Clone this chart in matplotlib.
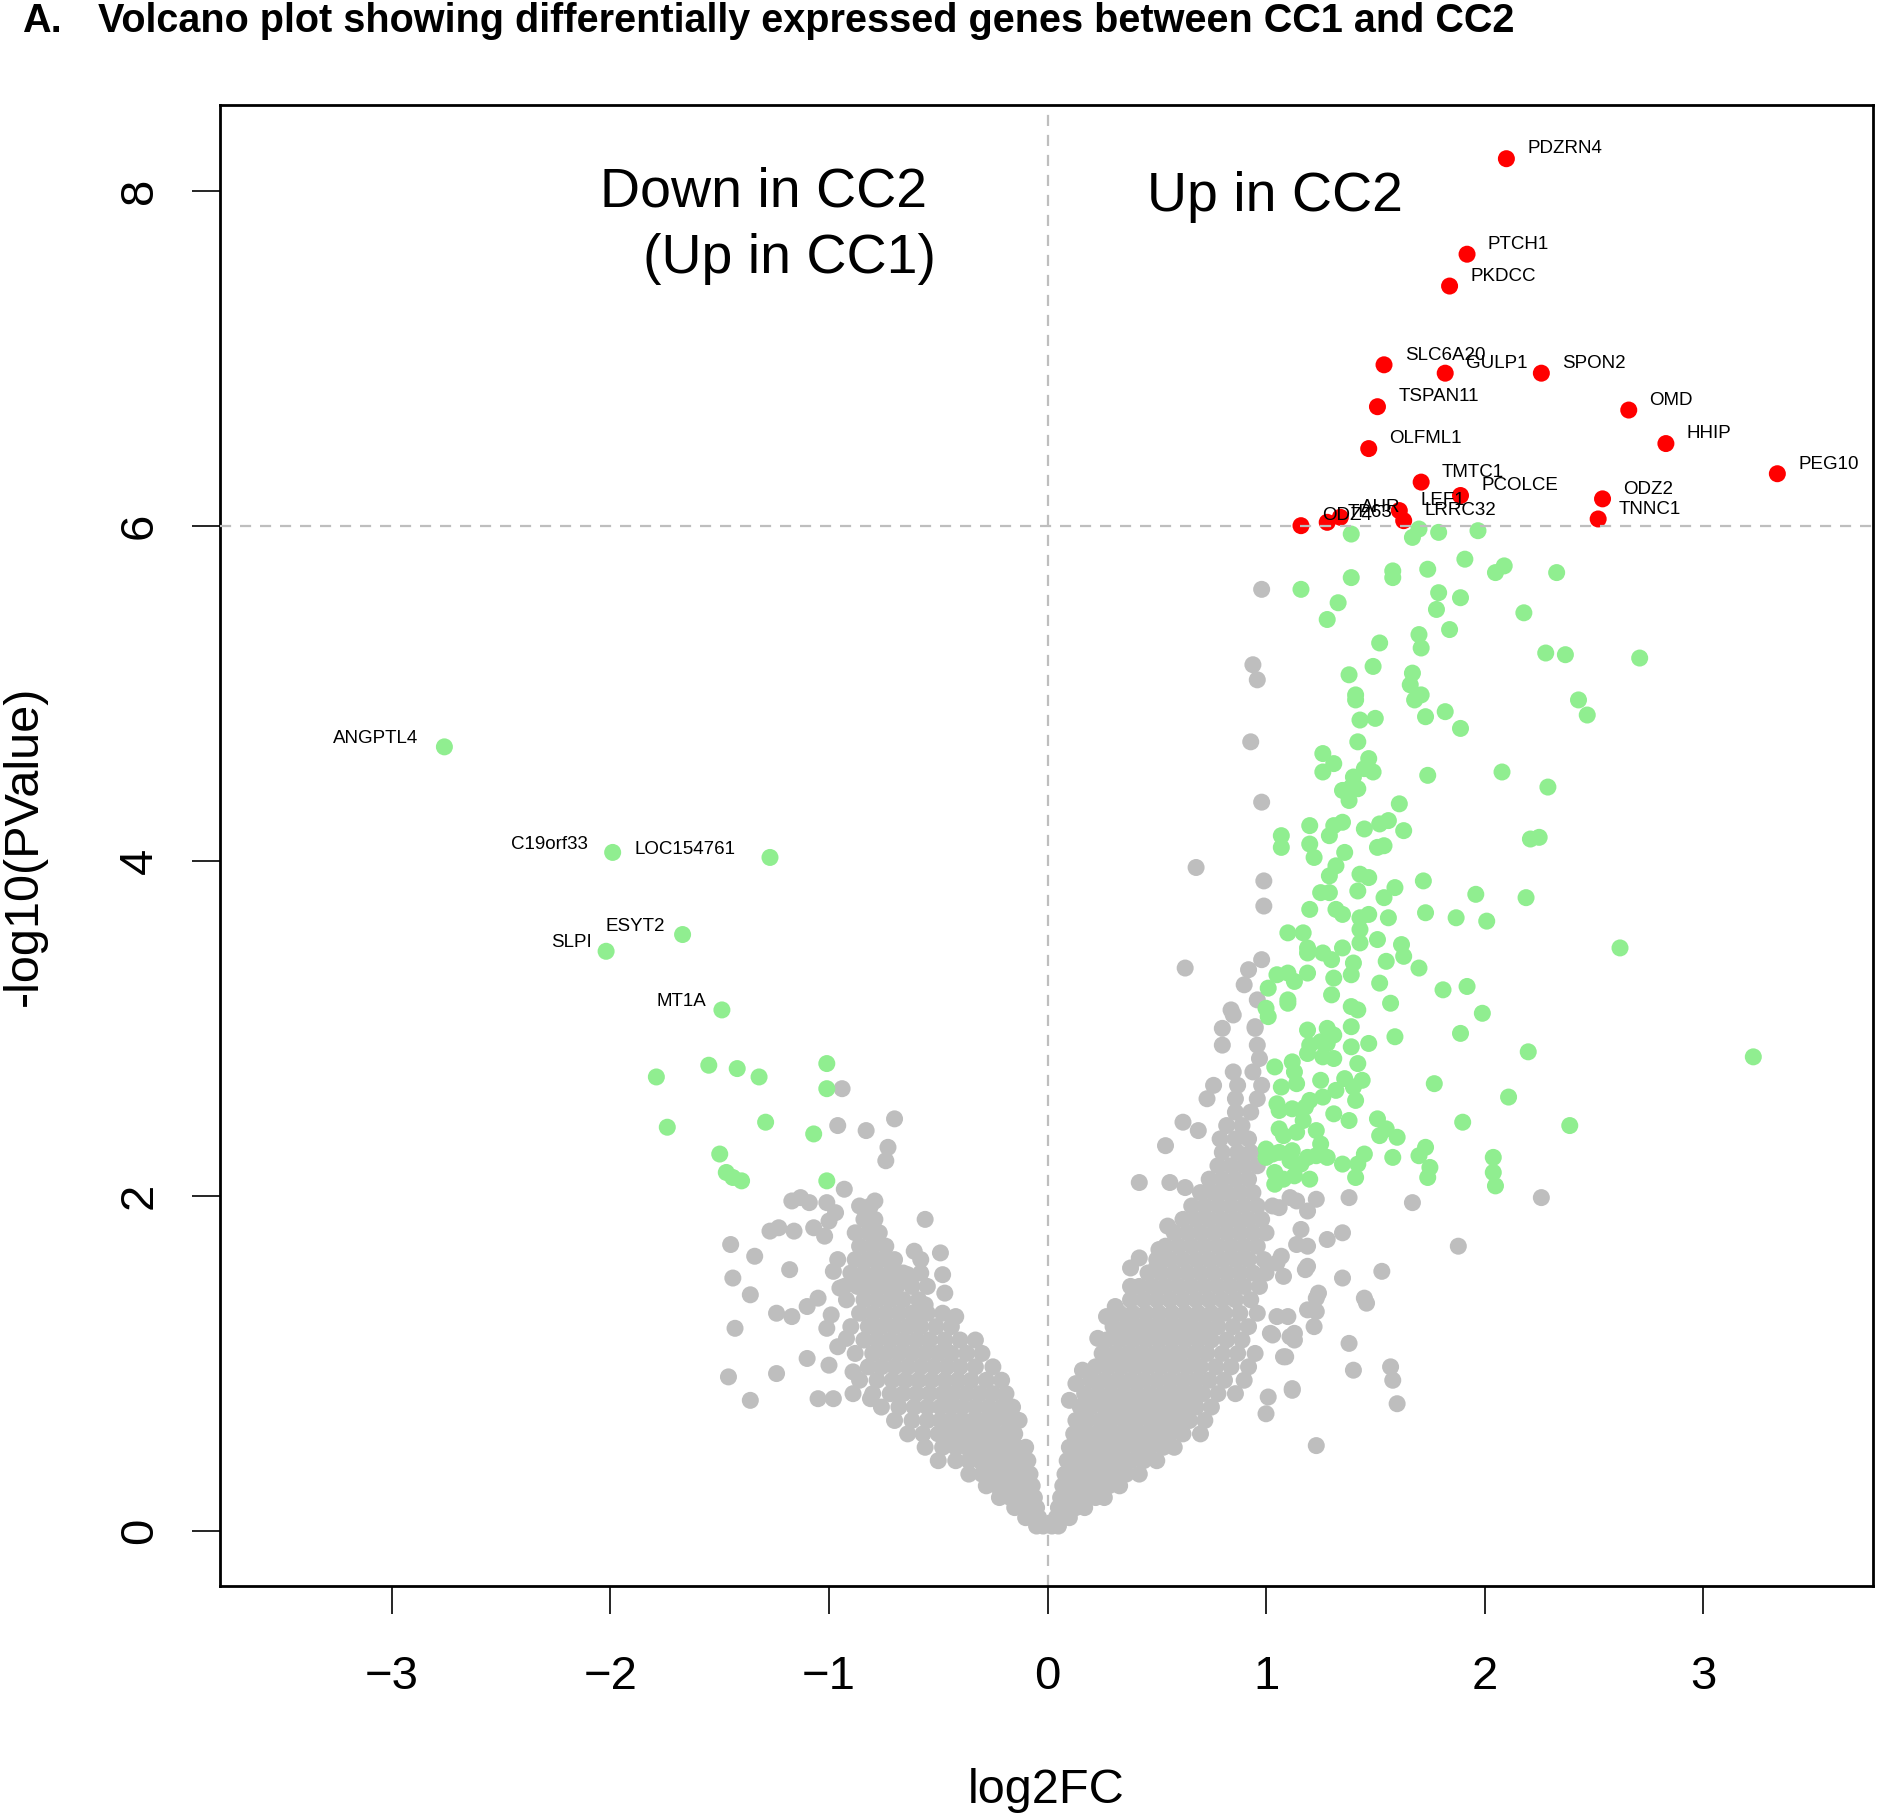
import matplotlib.pyplot as plt
import numpy as np

# =========================
# Data
# =========================

# genes above the p-value cut-off (red, labelled)
red_genes = ["PDZRN4", "PTCH1", "PKDCC", "SLC6A20", "GULP1", "SPON2", "TSPAN11",
             "OMD", "OLFML1", "HHIP", "PEG10", "TMTC1", "PCOLCE", "ODZ2", "TNNC1",
             "LEF1", "LRRC32", "AHR", "TP63", "ODZ4"]
red_fc = [2.10, 1.92, 1.84, 1.54, 1.82, 2.26, 1.51,
          2.66, 1.47, 2.83, 3.34, 1.71, 1.89, 2.54, 2.52,
          1.61, 1.63, 1.34, 1.28, 1.16]
red_p = [8.19, 7.62, 7.43, 6.96, 6.91, 6.91, 6.71,
         6.69, 6.46, 6.49, 6.31, 6.26, 6.18, 6.16, 6.04,
         6.09, 6.03, 6.05, 6.02, 6.00]

# labelled genes up in CC1 (green, labels on the left)
left_genes = ["ANGPTL4", "C19orf33", "LOC154761", "ESYT2", "SLPI", "MT1A"]
left_fc = [-2.76, -1.99, -1.27, -1.67, -2.02, -1.49]
left_p = [4.68, 4.05, 4.02, 3.56, 3.46, 3.11]

# other significant genes, |log2FC| > 1 and -log10(p) > 2 (green)
green_left = [(-1.79, 2.71), (-1.55, 2.78), (-1.42, 2.76), (-1.32, 2.71), (-1.01, 2.79),
              (-1.01, 2.64), (-1.74, 2.41), (-1.29, 2.44), (-1.07, 2.37), (-1.50, 2.25),
              (-1.47, 2.14), (-1.44, 2.11), (-1.40, 2.09), (-1.01, 2.09)]

green_right = [
    # upper part (3.1 - 6.0)
    (1.39, 5.95), (1.67, 5.93), (1.70, 5.98), (1.79, 5.96), (1.97, 5.97), (1.91, 5.80),
    (2.05, 5.72), (2.09, 5.76), (2.33, 5.72), (1.74, 5.74), (1.58, 5.73), (1.58, 5.69),
    (1.39, 5.69), (1.16, 5.62), (1.33, 5.54), (1.28, 5.44), (1.79, 5.60), (1.78, 5.50),
    (1.89, 5.57), (2.18, 5.48), (1.84, 5.38), (1.70, 5.35), (1.71, 5.27), (1.52, 5.30),
    (2.28, 5.24), (2.37, 5.23), (2.71, 5.21), (1.49, 5.16), (1.38, 5.11), (1.67, 5.12),
    (1.66, 5.05), (1.71, 4.99), (1.68, 4.96), (1.41, 4.99), (1.41, 4.96), (1.82, 4.89),
    (1.73, 4.86), (2.43, 4.96), (2.47, 4.87), (1.43, 4.84), (1.50, 4.85), (1.89, 4.79),
    (1.42, 4.71), (1.26, 4.64), (1.31, 4.58), (1.26, 4.53), (1.47, 4.61), (1.45, 4.55),
    (1.49, 4.53), (1.40, 4.50), (1.39, 4.44), (1.74, 4.51), (2.08, 4.53), (2.29, 4.44),
    (1.35, 4.42), (1.42, 4.43), (1.38, 4.36), (1.61, 4.34), (1.20, 4.21), (1.07, 4.15),
    (1.07, 4.08), (1.20, 4.10), (1.22, 4.02), (1.31, 4.21), (1.35, 4.23), (1.29, 4.15),
    (1.45, 4.19), (1.52, 4.22), (1.56, 4.24), (1.63, 4.18), (1.51, 4.08), (1.54, 4.09),
    (2.21, 4.13), (2.25, 4.14), (1.36, 4.05), (1.32, 3.97), (1.29, 3.91), (1.43, 3.92),
    (1.47, 3.90), (1.72, 3.88), (1.25, 3.81), (1.29, 3.81), (1.42, 3.82), (1.54, 3.78),
    (1.59, 3.84), (1.96, 3.80), (2.19, 3.78), (1.20, 3.71), (1.32, 3.71), (1.35, 3.68),
    (1.43, 3.66), (1.47, 3.68), (1.56, 3.66), (1.73, 3.69), (1.87, 3.66), (2.01, 3.64),
    (1.10, 3.57), (1.17, 3.57), (1.43, 3.59), (1.51, 3.53), (1.43, 3.51), (1.35, 3.48),
    (1.19, 3.48), (1.19, 3.45), (1.62, 3.50), (1.63, 3.43), (2.62, 3.48), (1.26, 3.45),
    (1.30, 3.41), (1.40, 3.39), (1.55, 3.40), (1.05, 3.32), (1.10, 3.33), (1.13, 3.28),
    (1.19, 3.33), (1.31, 3.30), (1.39, 3.32), (1.70, 3.36), (1.01, 3.24), (1.52, 3.27),
    (1.81, 3.23), (1.92, 3.25), (1.30, 3.20), (1.10, 3.17), (1.00, 3.12), (1.01, 3.07),
    (1.39, 3.13), (1.42, 3.11), (1.57, 3.15), (1.99, 3.09), (3.23, 2.83),
    # lower part (2.0 - 3.1)
    (1.10, 3.15), (1.19, 2.99), (1.28, 3.00), (1.31, 2.96), (1.25, 2.92), (1.20, 2.90),
    (1.28, 2.91), (1.39, 3.01), (1.39, 2.89), (1.47, 2.91), (1.59, 2.95), (1.89, 2.97),
    (2.20, 2.86), (1.04, 2.77), (1.12, 2.80), (1.13, 2.74), (1.19, 2.85), (1.26, 2.83),
    (1.31, 2.82), (1.42, 2.79), (1.25, 2.69), (1.36, 2.70), (1.44, 2.69), (1.07, 2.65),
    (1.14, 2.67), (1.32, 2.63), (1.40, 2.65), (1.41, 2.57), (1.77, 2.67), (2.11, 2.59),
    (1.05, 2.55), (1.06, 2.51), (1.12, 2.52), (1.18, 2.53), (1.20, 2.57), (1.26, 2.59),
    (1.31, 2.49), (1.38, 2.45), (1.51, 2.46), (1.90, 2.44), (2.39, 2.42), (1.06, 2.40),
    (1.08, 2.36), (1.14, 2.38), (1.23, 2.39), (1.25, 2.31), (1.17, 2.45), (1.52, 2.36),
    (1.60, 2.35), (1.55, 2.40), (1.00, 2.28), (1.00, 2.23), (1.03, 2.25), (1.06, 2.26),
    (1.12, 2.27), (1.11, 2.21), (1.19, 2.23), (1.23, 2.24), (1.28, 2.23), (1.35, 2.19),
    (1.42, 2.19), (1.45, 2.25), (1.04, 2.14), (1.16, 2.19), (1.58, 2.23), (1.73, 2.29),
    (1.70, 2.24), (1.75, 2.17), (2.04, 2.23), (2.04, 2.14), (1.04, 2.07), (1.08, 2.10),
    (1.13, 2.12), (1.20, 2.10), (2.05, 2.06), (1.41, 2.11), (1.74, 2.11),
]

# non-significant genes (gray): dense V, written as rows of (-log10 p, [log2FC ...])
gray_left_rows = [
    (0.03, [-0.05, -0.02]),
    (0.08, [-0.10, -0.07, -0.04]),
    (0.14, [-0.15, -0.11, -0.08, -0.05]),
    (0.20, [-0.22, -0.17, -0.13, -0.09, -0.06]),
    (0.27, [-0.28, -0.23, -0.18, -0.14, -0.10, -0.07]),
    (0.34, [-0.36, -0.30, -0.25, -0.20, -0.16, -0.12, -0.08]),
    (0.42, [-0.50, -0.42, -0.36, -0.31, -0.26, -0.21, -0.17, -0.13, -0.09]),
    (0.50, [-0.56, -0.48, -0.42, -0.37, -0.32, -0.27, -0.22, -0.18, -0.14, -0.10]),
    (0.58, [-0.64, -0.57, -0.50, -0.45, -0.40, -0.35, -0.30, -0.25, -0.20, -0.15]),
    (0.66, [-0.70, -0.62, -0.55, -0.49, -0.44, -0.39, -0.34, -0.29, -0.24, -0.18, -0.13]),
    (0.74, [-0.76, -0.68, -0.61, -0.55, -0.49, -0.44, -0.39, -0.33, -0.27, -0.21, -0.16]),
    (0.82, [-0.80, -0.72, -0.66, -0.60, -0.54, -0.48, -0.43, -0.37, -0.31, -0.25, -0.19]),
    (0.90, [-0.86, -0.78, -0.71, -0.65, -0.59, -0.53, -0.47, -0.41, -0.35, -0.28, -0.21]),
    (0.98, [-0.82, -0.76, -0.70, -0.64, -0.58, -0.52, -0.46, -0.40, -0.33, -0.25]),
    (1.06, [-0.88, -0.80, -0.74, -0.68, -0.62, -0.56, -0.50, -0.44, -0.37, -0.30]),
    (1.14, [-0.84, -0.78, -0.72, -0.66, -0.60, -0.54, -0.47, -0.40, -0.33]),
    (1.22, [-0.90, -0.82, -0.76, -0.70, -0.64, -0.58, -0.51, -0.44]),
    (1.30, [-0.86, -0.80, -0.74, -0.68, -0.62, -0.55, -0.48]),
    (1.38, [-0.92, -0.84, -0.78, -0.72, -0.66, -0.59]),
    (1.46, [-0.93, -0.87, -0.81, -0.75, -0.69, -0.62, -0.55]),
    (1.54, [-0.90, -0.84, -0.78, -0.72, -0.66, -0.58]),
    (1.62, [-0.88, -0.82, -0.76, -0.70]),
    (1.70, [-0.86, -0.80, -0.74]),
    (1.78, [-0.88, -0.82, -0.77]),
    (1.86, [-0.84, -0.79]),
    (1.94, [-0.86, -0.81]),
]

gray_right_rows = [
    (0.03, [0.02, 0.05]),
    (0.08, [0.04, 0.07, 0.10]),
    (0.14, [0.05, 0.09, 0.13, 0.17]),
    (0.20, [0.06, 0.10, 0.14, 0.18, 0.22, 0.26]),
    (0.27, [0.07, 0.11, 0.15, 0.19, 0.23, 0.28, 0.33]),
    (0.34, [0.08, 0.12, 0.16, 0.21, 0.26, 0.31, 0.36, 0.42]),
    (0.42, [0.09, 0.13, 0.18, 0.23, 0.28, 0.33, 0.38, 0.44, 0.50]),
    (0.50, [0.10, 0.15, 0.20, 0.25, 0.30, 0.35, 0.41, 0.47, 0.53, 0.58]),
    (0.58, [0.12, 0.17, 0.22, 0.27, 0.32, 0.38, 0.44, 0.50, 0.56, 0.62, 0.70]),
    (0.66, [0.13, 0.18, 0.24, 0.29, 0.35, 0.41, 0.47, 0.53, 0.59, 0.65, 0.72]),
    (0.74, [0.15, 0.20, 0.26, 0.32, 0.38, 0.44, 0.50, 0.56, 0.62, 0.68, 0.75]),
    (0.82, [0.17, 0.23, 0.29, 0.35, 0.41, 0.47, 0.53, 0.59, 0.65, 0.71, 0.78, 0.86]),
    (0.90, [0.20, 0.26, 0.32, 0.38, 0.44, 0.50, 0.56, 0.62, 0.68, 0.74, 0.81, 0.90]),
    (0.98, [0.22, 0.28, 0.34, 0.40, 0.46, 0.52, 0.58, 0.64, 0.70, 0.77, 0.84, 0.92]),
    (1.06, [0.25, 0.31, 0.37, 0.43, 0.49, 0.55, 0.61, 0.67, 0.73, 0.80, 0.87, 0.95]),
    (1.14, [0.27, 0.33, 0.39, 0.45, 0.51, 0.57, 0.63, 0.69, 0.75, 0.82, 0.89]),
    (1.22, [0.30, 0.36, 0.42, 0.48, 0.54, 0.60, 0.66, 0.72, 0.78, 0.85, 0.92]),
    (1.30, [0.33, 0.39, 0.45, 0.51, 0.57, 0.63, 0.69, 0.75, 0.81, 0.88, 0.96]),
    (1.38, [0.38, 0.44, 0.50, 0.56, 0.62, 0.68, 0.74, 0.80, 0.86, 0.93]),
    (1.46, [0.42, 0.48, 0.54, 0.60, 0.66, 0.72, 0.78, 0.84, 0.90, 0.97]),
    (1.54, [0.46, 0.52, 0.58, 0.64, 0.70, 0.76, 0.82, 0.88, 0.94]),
    (1.62, [0.50, 0.56, 0.62, 0.68, 0.74, 0.80, 0.86, 0.92, 0.99]),
    (1.70, [0.54, 0.60, 0.66, 0.72, 0.78, 0.84, 0.90, 0.96]),
    (1.78, [0.58, 0.64, 0.70, 0.76, 0.82, 0.88, 0.94, 1.00]),
    (1.86, [0.62, 0.68, 0.74, 0.80, 0.86, 0.92, 0.98]),
    (1.94, [0.66, 0.72, 0.78, 0.84, 0.90, 0.96, 1.03]),
    (2.02, [0.70, 0.76, 0.82, 0.88, 0.94]),
    (2.10, [0.74, 0.80, 0.86, 0.92]),
    (2.18, [0.78, 0.84, 0.90, 0.96]),
    (2.26, [0.80, 0.87, 0.93]),
    (2.34, [0.79, 0.86, 0.92]),
    (2.42, [0.82, 0.89]),
    (2.50, [0.86, 0.93]),
    (2.58, [0.73, 0.86, 0.96]),
    (2.66, [0.76, 0.87, 0.98]),
    (2.74, [0.85, 0.94]),
    (2.82, [0.97]),
    (2.90, [0.80, 0.96]),
    (3.00, [0.80, 0.95]),
    (3.08, [0.85]),
]

gray_extra = [
    # left arm, loose points
    (-0.94, 2.64), (-0.96, 2.42), (-0.83, 2.39), (-0.70, 2.46), (-0.73, 2.29), (-0.74, 2.21),
    (-0.93, 2.04), (-0.79, 1.97), (-1.13, 1.99), (-1.17, 1.97), (-1.09, 1.96), (-1.01, 1.96),
    (-0.97, 1.90), (-1.45, 1.71), (-1.44, 1.51), (-1.34, 1.64), (-1.27, 1.79), (-1.23, 1.81),
    (-1.16, 1.79), (-1.07, 1.81), (-1.02, 1.76), (-1.00, 1.85), (-1.36, 1.41), (-1.24, 1.30),
    (-1.17, 1.28), (-1.10, 1.34), (-1.05, 1.39), (-0.99, 1.29), (-1.01, 1.21), (-1.18, 1.56),
    (-1.43, 1.21), (-1.46, 0.92), (-1.36, 0.78), (-1.24, 0.94), (-1.10, 1.03), (-1.05, 0.79),
    (-0.98, 0.79), (-0.89, 0.82), (-0.81, 0.79), (-1.00, 0.99), (-0.89, 0.95), (-0.96, 1.62),
    (-0.71, 1.56), (-0.58, 1.62), (-0.63, 1.49), (-0.48, 1.53), (-0.47, 1.42), (-0.56, 1.35),
    (-0.60, 1.26), (-0.42, 1.28), (-0.56, 1.86), (-0.61, 1.67), (-0.49, 1.66), (-0.64, 1.53),
    (-0.96, 1.10), (-0.92, 1.15), (-0.95, 1.45), (-0.98, 1.55),
    # right arm, loose points
    (0.98, 5.62), (0.94, 5.17), (0.96, 5.08), (0.93, 4.71), (0.98, 4.35), (0.68, 3.96),
    (0.99, 3.88), (0.99, 3.73), (0.98, 3.41), (0.63, 3.36), (0.92, 3.35), (0.90, 3.26),
    (0.96, 3.17), (0.84, 3.11), (0.95, 3.01), (0.62, 2.44), (0.69, 2.39), (0.54, 2.30),
    (0.42, 2.08), (0.56, 2.08), (0.63, 2.05), (0.55, 1.82), (0.51, 1.68), (0.50, 1.58),
    (0.42, 1.63), (0.38, 1.57), (0.38, 1.46), (0.31, 1.34), (0.27, 1.28), (0.23, 1.15),
    (0.16, 0.96), (0.13, 0.88), (0.10, 0.78),
    (2.26, 1.99), (1.67, 1.96), (1.38, 1.99), (1.23, 1.98), (1.88, 1.70), (1.53, 1.55),
    (1.35, 1.78), (1.28, 1.74), (1.19, 1.70), (1.19, 1.58), (1.35, 1.51), (1.45, 1.39),
    (1.46, 1.36), (1.23, 1.39), (1.19, 1.32), (1.23, 1.31), (1.38, 1.12), (1.57, 0.98),
    (1.60, 0.76), (1.23, 0.51), (1.13, 1.18), (1.13, 1.14), (1.09, 1.04), (1.03, 1.17),
    (1.12, 0.84), (1.01, 0.80), (1.19, 1.91), (1.16, 1.80), (1.06, 1.93), (1.14, 1.97),
    (1.11, 1.99), (1.07, 1.64), (1.14, 1.71), (1.18, 1.56), (1.10, 1.28), (1.22, 1.22),
    (1.24, 1.42), (1.40, 0.96), (1.58, 0.90), (1.05, 1.60), (1.08, 1.52), (1.00, 1.54),
    (1.05, 1.28), (1.02, 1.18), (1.11, 1.16), (1.08, 1.04), (1.12, 0.85), (1.00, 0.70),
]

# collect gray points
gray_x = [x for y, xs in gray_left_rows + gray_right_rows for x in xs] + [p[0] for p in gray_extra]
gray_y = [y for y, xs in gray_left_rows + gray_right_rows for x in xs] + [p[1] for p in gray_extra]

green_x = [p[0] for p in green_left + green_right] + left_fc
green_y = [p[1] for p in green_left + green_right] + left_p

# =========================
# Plot
# =========================

plt.rcParams['font.family'] = ['Liberation Sans', 'DejaVu Sans']

fig = plt.figure(figsize=(18.77, 18.18), dpi=100)
ax = fig.add_axes([0.1172, 0.1276, 0.8807, 0.8146])

pt_size = 150
ax.scatter(gray_x, gray_y, s=pt_size, c='#bebebe', edgecolors='none', zorder=2)
ax.scatter(green_x, green_y, s=pt_size, c='#90ee90', edgecolors='none', zorder=3)
ax.scatter(red_fc, red_p, s=pt_size, c='#ff0000', edgecolors='none', zorder=4)

# cut-off lines
ax.axvline(0, color='#bebebe', lw=1.6, ls=(0, (5, 4)), zorder=1)
ax.axhline(6, color='#bebebe', lw=1.6, ls=(0, (5, 4)), zorder=5)

# gene labels
for name, x, y in zip(red_genes, red_fc, red_p):
    ax.annotate(name, (x, y), xytext=(15, 7), textcoords='offset points',
                ha='left', va='center', fontsize=13.5, zorder=6)

left_dx = [-19, -18, -25, -13, -10, -11]
for name, x, y, dx in zip(left_genes, left_fc, left_p, left_dx):
    ax.annotate(name, (x, y), xytext=(dx, 6), textcoords='offset points',
                ha='right', va='center', fontsize=13.5, zorder=6)

# region captions
ax.text(-2.05, 7.99, "Down in CC2", fontsize=40, ha='left', va='center')
ax.text(-1.85, 7.59, "(Up in CC1)", fontsize=40, ha='left', va='center')
ax.text(0.455, 7.96, "Up in CC2", fontsize=40, ha='left', va='center')

ax.set_xlim(-3.787, 3.778)
ax.set_ylim(-0.328, 8.51)
ax.set_xticks([-3, -2, -1, 0, 1, 2, 3])
ax.set_xticklabels(['\u22123', '\u22122', '\u22121', '0', '1', '2', '3'])
ax.set_yticks([0, 2, 4, 6, 8])

ax.tick_params(axis='both', direction='out', length=20, width=1.2, labelsize=34, color='black')
ax.tick_params(axis='x', pad=30)
ax.tick_params(axis='y', pad=22, labelrotation=90)
for lab in ax.get_yticklabels():
    lab.set_va('center')

for sp in ax.spines.values():
    sp.set_linewidth(2)

ax.set_xlabel("log2FC", fontsize=35)
ax.xaxis.set_label_coords(0.5, -0.138)
ax.xaxis.label.set_va('center')
ax.set_ylabel("-log10(PValue)", fontsize=35)
ax.yaxis.set_label_coords(-0.1186, 0.5)
ax.yaxis.label.set_va('center')

# panel title
fig.text(22 / 1877, 1 - 21 / 1818, "A.", fontsize=28.5, fontweight='bold',
         ha='left', va='center')
fig.text(98 / 1877, 1 - 21 / 1818,
         "Volcano plot showing differentially expressed genes between CC1 and CC2",
         fontsize=28.5, fontweight='bold', ha='left', va='center')

fig.savefig("out.png", dpi=100, facecolor='white')
